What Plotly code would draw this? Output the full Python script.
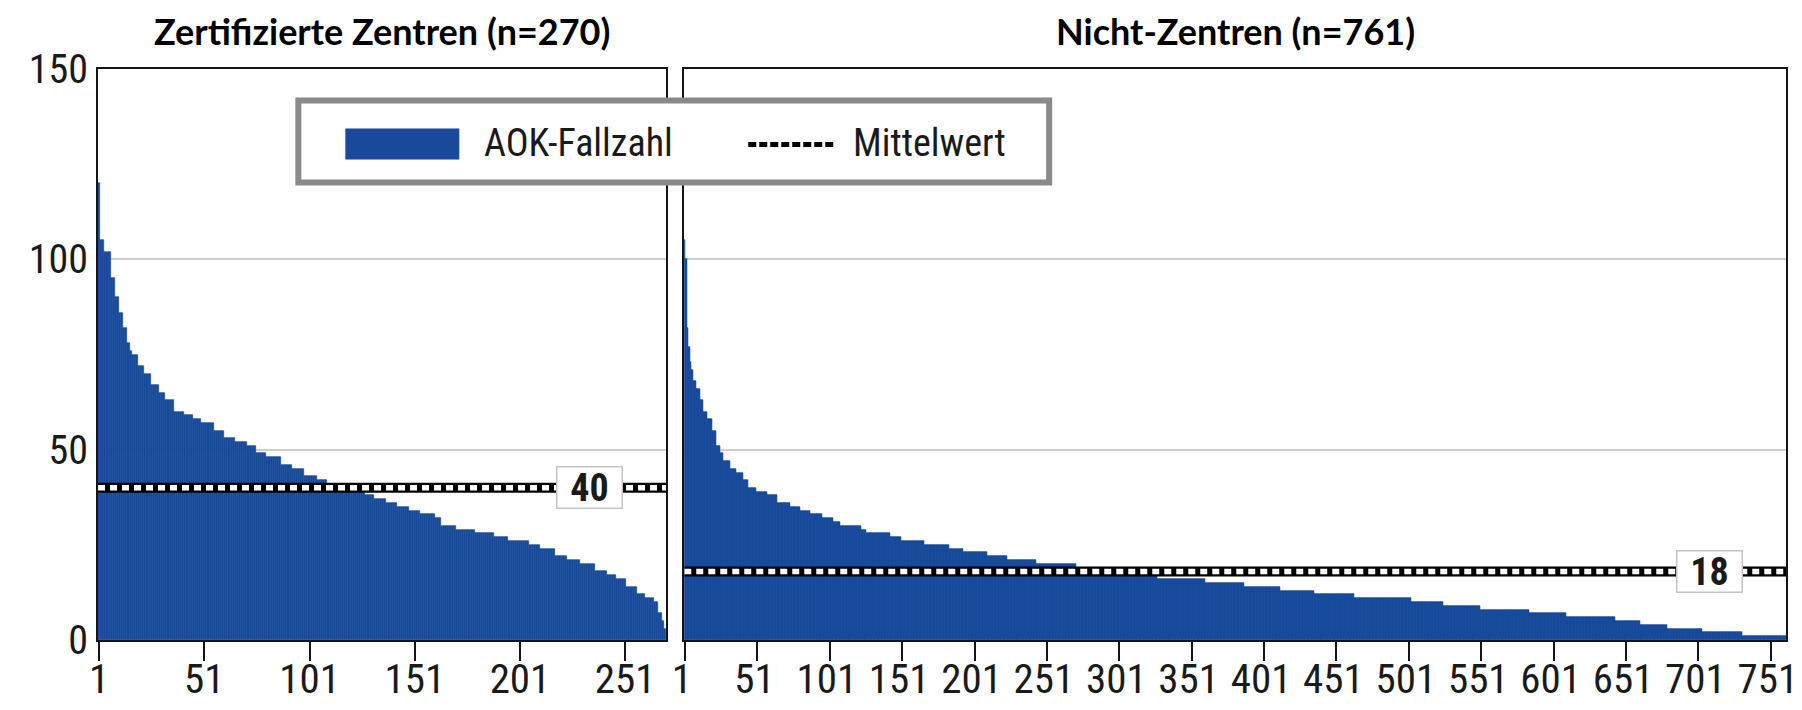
import plotly.graph_objects as go

# ---------------- data ----------------
# Case numbers per hospital, sorted descending, stored as runs: value, number of hospitals
zentren_values = [120, 105, 102, 95, 90, 86, 82, 78, 76, 75,
                  72, 70, 67, 65, 63, 60, 59, 58, 57, 55,
                  53, 52, 51, 49, 48, 46, 45, 43, 42, 41,
                  40, 39, 38, 37, 36, 35, 34, 33, 32, 30,
                  29, 28, 27, 26, 25, 24, 22, 21, 20, 18,
                  17, 16, 14, 12, 11, 10, 7, 5, 3]
zentren_counts = [1, 2, 3, 2, 2, 2, 2, 1, 1, 3,
                  3, 3, 4, 3, 4, 5, 4, 4, 6, 5,
                  5, 6, 4, 5, 7, 5, 6, 6, 5, 5,
                  8, 5, 4, 6, 5, 6, 5, 7, 3, 7,
                  9, 9, 7, 10, 5, 7, 6, 6, 7, 6,
                  4, 5, 5, 4, 4, 2, 2, 1, 1]

nicht_values = [105, 100, 82, 77, 73, 71, 68, 66, 63, 60,
                58, 55, 51, 49, 47, 45, 44, 42, 40, 39,
                38, 36, 35, 34, 33, 32, 31, 30, 29, 28,
                27, 26, 25, 24, 23, 22, 21, 20, 19, 18,
                17, 16, 15, 14, 13, 12, 11, 10, 9, 8,
                7, 6, 5, 4, 3, 2, 1]
nicht_counts = [1, 1, 1, 1, 1, 1, 2, 3, 2, 3,
                3, 3, 3, 2, 5, 4, 5, 3, 6, 7,
                7, 9, 7, 7, 8, 8, 5, 14, 4, 16,
                8, 16, 17, 10, 16, 14, 20, 28, 29, 20,
                7, 33, 27, 25, 23, 28, 39, 22, 26, 34,
                25, 34, 17, 19, 24, 28, 30]

mean_values = [40, 18]            # printed mean labels
panel_names = ["Zertifizierte Zentren", "Nicht-Zentren"]
y_ticks = [0, 50, 100, 150]
x_ticks_left = [1, 51, 101, 151, 201, 251]
x_ticks_right = [1, 51, 101, 151, 201, 251, 301, 351, 401, 451, 501, 551, 601, 651, 701, 751]
legend_labels = ["AOK-Fallzahl", "Mittelwert"]

# ---------------- build ----------------
def expand(vals, cnts):
    out = []
    for v, c in zip(vals, cnts):
        out.extend([v] * c)
    return out

y_left = expand(zentren_values, zentren_counts)
y_right = expand(nicht_values, nicht_counts)
x_left = list(range(1, len(y_left) + 1))
x_right = list(range(1, len(y_right) + 1))

BLUE = "#18499a"
COND = "Roboto Condensed, Roboto, sans-serif"
TITLE_FONT = "Lato, Calibri, sans-serif"
TXT = "#1a1a1a"

OFF = 8                      # page body margin of the html page
W, H = 1802 - OFF, 710 - OFF
ML, MT = 97.6 - OFF, 68.5 - OFF
MR = W - (1786 - OFF)
MB = H - (640 - OFF)
PW = W - ML - MR
PH = H - MT - MB
split_l = (666 - OFF - ML) / PW
split_r = (684 - OFF - ML) / PW

fig = go.Figure()

panels = [
    (x_left, y_left, "x", "y", mean_values[0], 234),
    (x_right, y_right, "x2", "y2", mean_values[1], 709),
]

for xs, ys, xa, ya, m, lab_x in panels:
    fig.add_trace(go.Bar(x=xs, y=ys, width=1.0, xaxis=xa, yaxis=ya,
                         marker=dict(color=BLUE, line=dict(width=0.6, color=BLUE)),
                         showlegend=False, hoverinfo="x+y"))
    x_ext = [xs[0] - 0.5, xs[-1] + 0.5]
    fig.add_trace(go.Scatter(x=x_ext, y=[m, m], mode="lines", xaxis=xa, yaxis=ya,
                             line=dict(color="black", width=10), showlegend=False,
                             hoverinfo="skip"))
    fig.add_trace(go.Scatter(x=x_ext, y=[m, m], mode="lines", xaxis=xa, yaxis=ya,
                             line=dict(color="white", width=5.5, dash="7px,5px"),
                             showlegend=False, hoverinfo="skip"))
    fig.add_annotation(x=lab_x, y=m, xref=xa, yref=ya, text="<b>%d</b>" % m,
                       showarrow=False, bgcolor="white", bordercolor="#c4c4c4",
                       borderwidth=1.5, width=62, height=38, xanchor="center",
                       font=dict(family=COND, size=38, color=TXT))

axis_common = dict(showline=True, mirror=True, linecolor="#151515", linewidth=2,
                   zeroline=False, automargin=False)

fig.update_layout(
    template="none",
    width=W, height=H,
    margin=dict(l=ML, r=MR, t=MT, b=MB, autoexpand=False),
    paper_bgcolor="white", plot_bgcolor="white",
    bargap=0, showlegend=False,
    xaxis=dict(domain=[0, split_l], range=[0.5, len(y_left) + 0.5],
               tickvals=x_ticks_left, ticks="outside", ticklen=19, tickwidth=2,
               tickcolor="#151515", showgrid=False, ticklabelstandoff=-17,
               tickfont=dict(family=COND, size=41, color=TXT),
               anchor="y", **axis_common),
    yaxis=dict(domain=[0, 1], range=[0, 150], tickvals=y_ticks, ticks="",
               showgrid=True, gridcolor="#cdcdcd", gridwidth=2,
               ticklabelstandoff=0,
               tickfont=dict(family=COND, size=40, color=TXT),
               anchor="x", **axis_common),
    xaxis2=dict(domain=[split_r, 1], range=[0.5, len(y_right) + 0.5],
                tickvals=x_ticks_right, ticks="outside", ticklen=19, tickwidth=2,
                tickcolor="#151515", showgrid=False, ticklabelstandoff=-17,
                ticklabeloverflow="allow", ticklabelshift=-3,
                tickfont=dict(family=COND, size=41, color=TXT),
                anchor="y2", **axis_common),
    yaxis2=dict(domain=[0, 1], range=[0, 150], tickvals=y_ticks, ticks="",
                showticklabels=False,
                showgrid=True, gridcolor="#cdcdcd", gridwidth=2,
                anchor="x2", **axis_common),
)

# panel titles
titles = ["%s (n=%d)" % (panel_names[0], len(y_left)),
          "%s (n=%d)" % (panel_names[1], len(y_right))]
for t, (d0, d1) in zip(titles, [(0, split_l), (split_r, 1)]):
    fig.add_annotation(x=(d0 + d1) / 2, y=1 + 38 / PH, xref="paper", yref="paper",
                       text="<b>%s</b>" % t, showarrow=False,
                       xanchor="center", yanchor="middle",
                       font=dict(family=TITLE_FONT, size=36, color="black"))

# manual legend (paper coordinates, given in window pixels)
def px_x(v):
    return (v - OFF - ML) / PW

def px_y(v):
    return (H - MB - (v - OFF)) / PH

fig.add_shape(type="rect", xref="paper", yref="paper",
              x0=px_x(298), x1=px_x(1049), y0=px_y(182), y1=px_y(100),
              fillcolor="white", line=dict(color="#8a8a8a", width=6), layer="above")
fig.add_shape(type="rect", xref="paper", yref="paper",
              x0=px_x(345), x1=px_x(459), y0=px_y(159), y1=px_y(128),
              fillcolor=BLUE, line=dict(width=0), layer="above")
fig.add_shape(type="line", xref="paper", yref="paper",
              x0=px_x(748), x1=px_x(836), y0=px_y(144), y1=px_y(144),
              line=dict(color="black", width=5, dash="8px,3px"), layer="above")
fig.add_annotation(x=px_x(482), y=px_y(143), xref="paper", yref="paper",
                   text=legend_labels[0], showarrow=False, xanchor="left", yanchor="middle",
                   font=dict(family=COND, size=38, color=TXT))
fig.add_annotation(x=px_x(851), y=px_y(143), xref="paper", yref="paper",
                   text=legend_labels[1], showarrow=False, xanchor="left", yanchor="middle",
                   font=dict(family=COND, size=38, color=TXT))

fig.write_html("out.html")
